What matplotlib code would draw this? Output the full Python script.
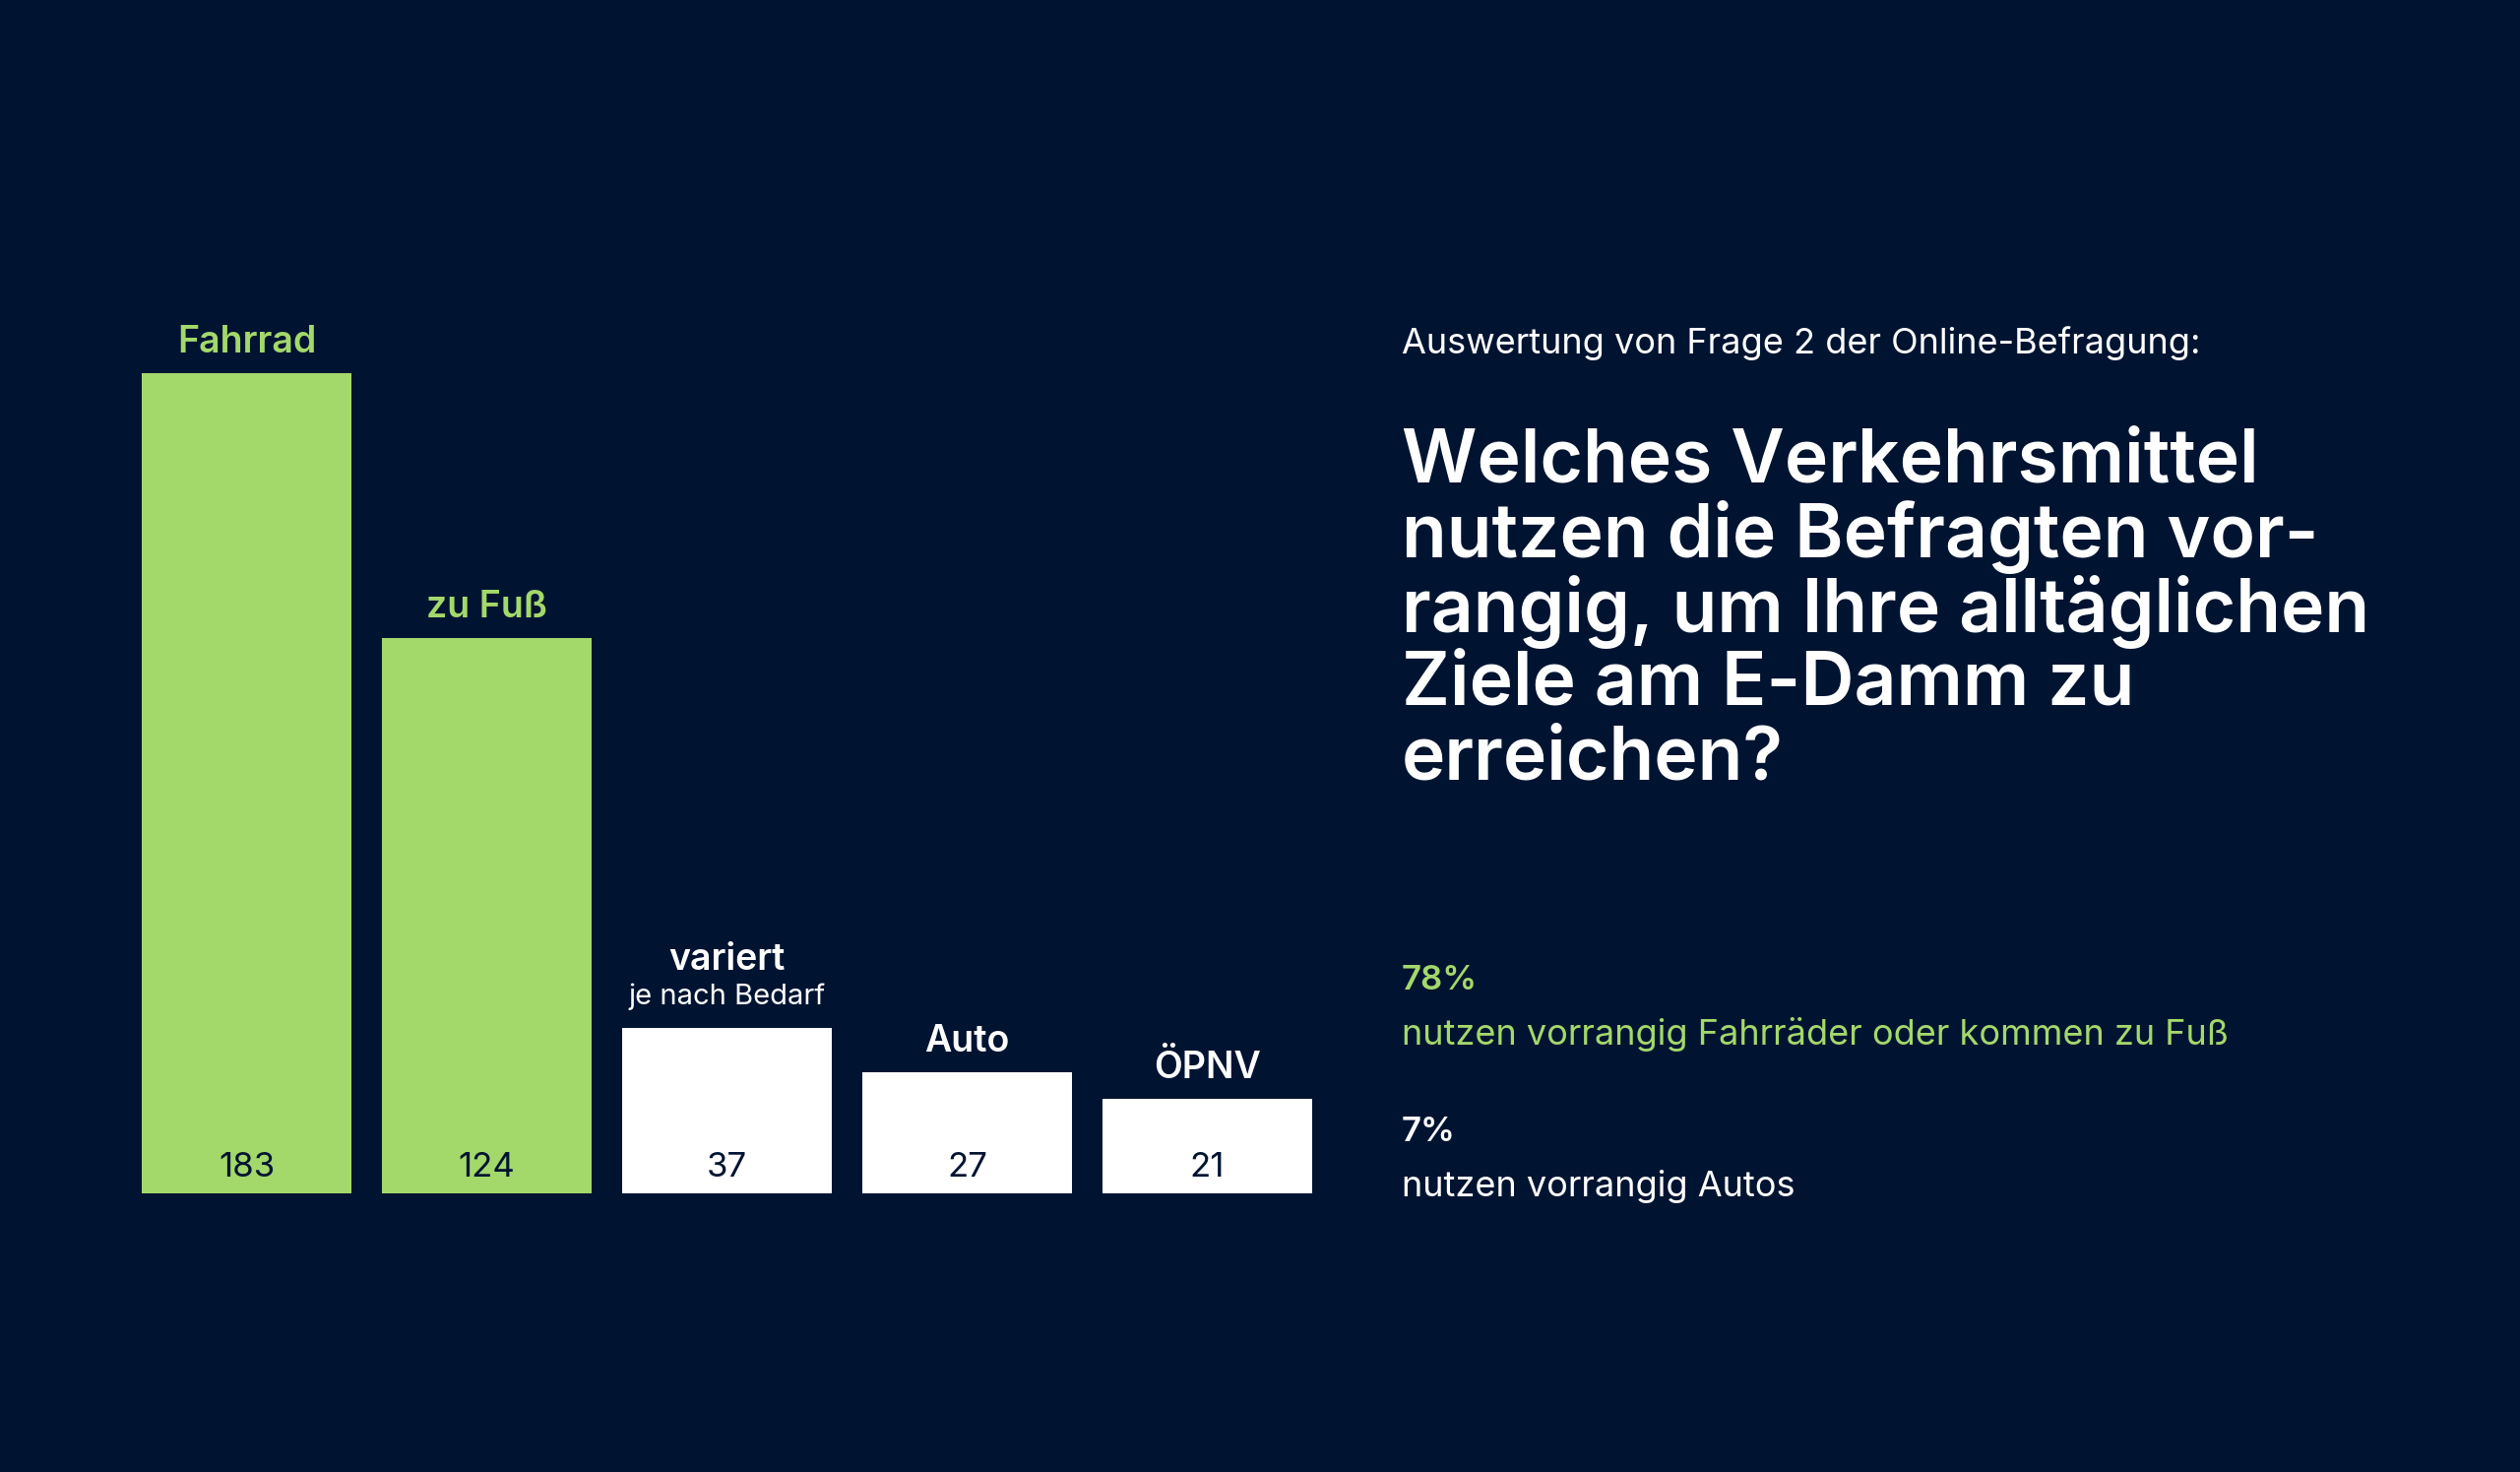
import matplotlib
matplotlib.use("Agg")
import matplotlib.pyplot as plt

# data
categories = ["Fahrrad", "zu Fuß", "variert", "Auto", "ÖPNV"]
sublabels = ["", "", "je nach Bedarf", "", ""]
values = [183, 124, 37, 27, 21]
highlight = [True, True, False, False, False]

subtitle = "Auswertung von Frage 2 der Online-Befragung:"
title_lines = ["Welches Verkehrsmittel", "nutzen die Befragten vor-",
               "rangig, um Ihre alltäglichen", "Ziele am E-Damm zu", "erreichen?"]
stat_values = ["78%", "7%"]
stat_texts = ["nutzen vorrangig Fahrräder oder kommen zu Fuß", "nutzen vorrangig Autos"]

BG = "#001431"
GREEN = "#a3d86b"
WHITE = "#ffffff"
FONT = ["Inter", "DejaVu Sans"]
plt.rcParams["font.family"] = FONT

W, H = 2560, 1495
fig = plt.figure(figsize=(W / 100, H / 100), dpi=100, facecolor=BG)

# bar axes: placed in pixel terms
ax = fig.add_axes([144 / W, (H - 1212) / H, 1189 / W, 910 / H])
ax.set_facecolor("none")
x = list(range(len(values)))
cols = [GREEN if h else WHITE for h in highlight]
ax.bar(x, values, width=0.873, color=cols)
ax.set_xlim(-0.4365, 4.4365)
ax.set_ylim(0, 200)
ax.axis("off")

pt = 72 / 100  # px -> points
for i, (c, s, v, h) in enumerate(zip(categories, sublabels, values, highlight)):
    col = GREEN if h else WHITE
    ax.annotate(str(v), (i, 0), xytext=(0, 26 * pt), textcoords="offset points",
                ha="center", va="center", fontsize=25, color=BG)
    if s:
        ax.annotate(c, (i, v), xytext=(0, 69 * pt), textcoords="offset points",
                    ha="center", va="center", fontsize=27, color=col, fontweight="semibold")
        ax.annotate(s, (i, v), xytext=(0, 31 * pt), textcoords="offset points",
                    ha="center", va="center", fontsize=21, color=col)
    else:
        ax.annotate(c, (i, v), xytext=(0, 31 * pt), textcoords="offset points",
                    ha="center", va="center", fontsize=27, color=col, fontweight="semibold")

# right text block
X0 = 1424 / W
def fy(py):
    return 1 - py / H

fig.text(X0, fy(349), subtitle, color=WHITE, fontsize=26, va="center", ha="left")
for k, line in enumerate(title_lines):
    fig.text(X0, fy(470 + k * 75.5), line, color=WHITE, fontsize=54,
             fontweight="semibold", va="center", ha="left")

fig.text(X0, fy(996), stat_values[0], color=GREEN, fontsize=25, fontweight="semibold", va="center")
fig.text(X0, fy(1050), stat_texts[0], color=GREEN, fontsize=26, va="center")
fig.text(X0, fy(1150), stat_values[1], color=WHITE, fontsize=25, fontweight="semibold", va="center")
fig.text(X0, fy(1205), stat_texts[1], color=WHITE, fontsize=26, va="center")

fig.savefig("out.png", dpi=100, facecolor=BG)
